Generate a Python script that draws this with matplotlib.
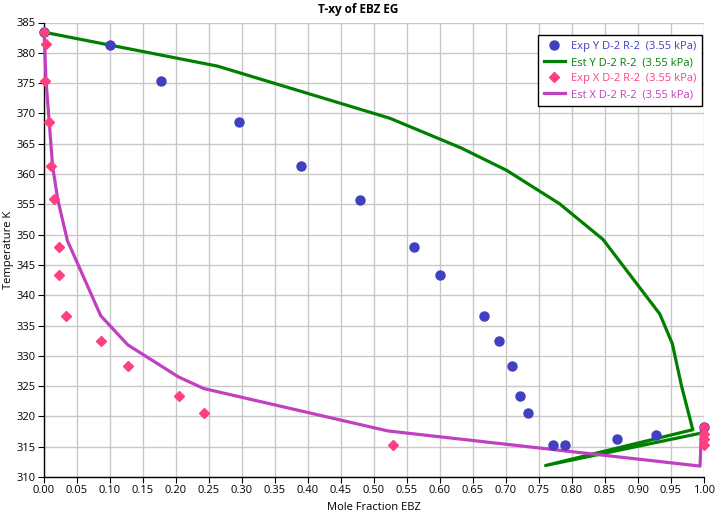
import matplotlib
matplotlib.use("Agg")
import matplotlib.pyplot as plt
import numpy as np

plt.rcParams['font.family'] = ['Open Sans', 'DejaVu Sans']

# Experimental vapour (Y) data
exp_y_x = [0.0, 0.100, 0.177, 0.296, 0.389, 0.479, 0.561, 0.600, 0.667, 0.689,
           0.709, 0.721, 0.734, 0.771, 0.789, 0.868, 0.928, 1.0]
exp_y_T = [383.4, 381.3, 375.4, 368.5, 361.3, 355.7, 347.9, 343.3, 336.5, 332.5,
           328.3, 323.4, 320.6, 315.3, 315.3, 316.3, 317.0, 318.2]

# Estimated vapour (Y) curve
est_y_x = [0.0, 0.263, 0.524, 0.632, 0.701, 0.781, 0.847, 0.933, 0.952, 0.966,
           0.983, 0.760, 0.998]
est_y_T = [383.4, 377.8, 369.2, 364.3, 360.6, 355.1, 349.2, 336.9, 332.0, 325.0,
           317.8, 311.9, 317.3]

# Experimental liquid (X) data
exp_x_x = [0.0, 0.003, 0.002, 0.0076, 0.0106, 0.015, 0.023, 0.022, 0.034, 0.086,
           0.128, 0.204, 0.242, 0.529, 1.0, 1.0, 1.0, 1.0]
exp_x_T = [383.4, 381.4, 375.4, 368.5, 361.3, 355.8, 348.0, 343.3, 336.5, 332.4,
           328.3, 323.3, 320.6, 315.3, 318.2, 317.1, 316.3, 315.3]

# Estimated liquid (X) curve
est_x_x = [0.0, 0.001, 0.003, 0.008, 0.013, 0.021, 0.0355, 0.086, 0.127, 0.204,
           0.242, 0.521, 0.994, 0.996]
est_x_T = [383.4, 381.4, 375.4, 368.5, 361.3, 355.7, 349.0, 336.6, 331.8, 326.5,
           324.6, 317.6, 311.8, 317.5]

labels = ["Exp Y D-2 R-2  (3.55 kPa)", "Est Y D-2 R-2  (3.55 kPa)",
          "Exp X D-2 R-2  (3.55 kPa)", "Est X D-2 R-2  (3.55 kPa)"]
c_blue = "#4040C0"
c_green = "#008000"
c_pink = "#FF4080"
c_purple = "#C040C0"

fig = plt.figure(figsize=(7.17, 5.18), dpi=100)
ax = fig.add_axes([44 / 717, 1 - 477 / 518, (704 - 44) / 717, (477 - 22.5) / 518])

ax.plot(exp_y_x, exp_y_T, linestyle='none', marker='o', markersize=6.5,
        color=c_blue, clip_on=False, zorder=4, label=labels[0])
ax.plot(est_y_x, est_y_T, color=c_green, linewidth=2.3, zorder=3, label=labels[1],
        clip_on=False)
ax.plot(exp_x_x, exp_x_T, linestyle='none', marker='D', markersize=5.5,
        color=c_pink, clip_on=False, zorder=5, label=labels[2])
ax.plot(est_x_x, est_x_T, color=c_purple, linewidth=2.3, zorder=3, label=labels[3],
        clip_on=False)

ax.set_xlim(0, 1)
ax.set_ylim(310, 385)
ax.set_xticks(np.arange(0, 1.0001, 0.05))
ax.set_xticklabels([f"{v:.2f}" for v in np.arange(0, 1.0001, 0.05)])
ax.set_yticks(np.arange(310, 386, 5))
ax.tick_params(axis='both', labelsize=8, length=4, width=0.8, color='black', pad=2)
ax.grid(True, color='#C8C8C8', linewidth=1)
ax.set_axisbelow(True)
for s in ['top', 'right']:
    ax.spines[s].set_visible(False)
for s in ['left', 'bottom']:
    ax.spines[s].set_color('black')
    ax.spines[s].set_linewidth(1)

ax.set_xlabel("Mole Fraction EBZ", fontsize=8, labelpad=4)
ax.set_ylabel("Temperature K", fontsize=8)
ax.yaxis.set_label_coords(-30 / 660, 0.5)
fig.suptitle("T-xy of EBZ EG", fontsize=8.5, fontweight='bold', y=0.995)

leg = ax.legend(loc='upper right', bbox_to_anchor=(702 / 717, 1 - 35 / 518),
                bbox_transform=fig.transFigure, fontsize=8, frameon=True,
                fancybox=False, edgecolor='black', framealpha=1,
                handlelength=1.9, handletextpad=0.5, borderpad=0.55,
                labelspacing=0.45, borderaxespad=0)
leg.get_frame().set_linewidth(1)
for txt, col in zip(leg.get_texts(), [c_blue, c_green, c_pink, c_purple]):
    txt.set_color(col)

fig.savefig("out.png", dpi=100)
